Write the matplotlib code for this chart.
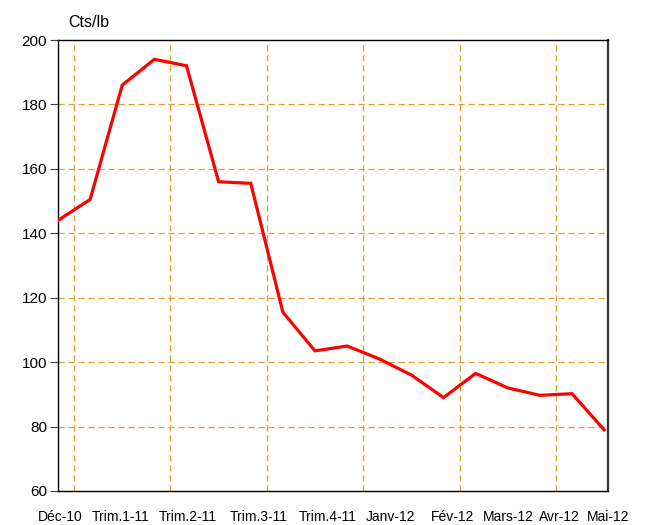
import matplotlib
matplotlib.use("Agg")
import matplotlib.pyplot as plt
import numpy as np

plt.rcParams["font.family"] = ["Liberation Sans", "DejaVu Sans"]

# Prix (cts/lb), 18 observations
prices = [144, 150.5, 186, 194, 192, 156, 155.5, 115.5, 103.5, 105,
          101, 96, 89, 96.5, 92, 89.7, 90.2, 79]

x_labels = ["Déc-10", "Trim.1-11", "Trim.2-11", "Trim.3-11", "Trim.4-11",
            "Janv-12", "Fév-12", "Mars-12", "Avr-12", "Mai-12"]
label_pos = [0.06, 1.95, 4.05, 6.24, 8.38, 10.36, 12.27, 14.03, 15.61, 17.12]

y_ticks = [60, 80, 100, 120, 140, 160, 180, 200]
grid_color = "#E39C35"

fig = plt.figure(figsize=(6.59, 5.25), dpi=100)
ax = fig.add_axes([0.088, 0.0648, 0.8346, 0.859])

x = np.arange(len(prices))
ax.plot(x, prices, color="#FF0000", linewidth=2.3, solid_joinstyle="miter", zorder=3)

ax.set_xlim(0, len(prices) - 1)
ax.set_ylim(60, 200)

# grid lines
for v in y_ticks[1:-1]:
    ax.axhline(v, color=grid_color, linestyle=(0, (5, 3)), linewidth=0.9, zorder=1)
for g in np.arange(0.5, len(prices) - 1, 3):
    ax.axvline(g, color=grid_color, linestyle=(0, (5, 3)), linewidth=0.9, zorder=1)

ax.set_yticks(y_ticks)
ax.tick_params(axis="y", direction="out", length=6, width=0.8, color="#444444",
               labelsize=11, pad=2)
ax.set_xticks(label_pos)
ax.set_xticklabels(x_labels)
ax.tick_params(axis="x", length=0, labelsize=10, pad=14)

for side in ["left", "top", "bottom"]:
    ax.spines[side].set_color("black")
    ax.spines[side].set_linewidth(1.0)
ax.spines["right"].set_color("#333333")
ax.spines["right"].set_linewidth(1.6)

fig.text(0.103, 0.957, "Cts/lb", fontsize=11.5, ha="left", va="center")

fig.savefig("out.png", dpi=100)
